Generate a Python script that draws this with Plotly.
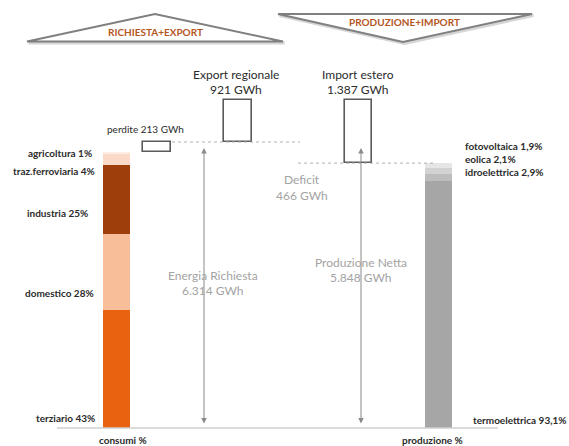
import plotly.graph_objects as go

# --- values (GWh and shares) ---
energia_richiesta = 6314
perdite = 213
export_regionale = 921
produzione_netta = 5848
import_estero = 1387
deficit = 466

consumi_labels = ["terziario 43%", "domestico 28%", "industria 25%",
                  "traz.ferroviaria 4%", "agricoltura 1%"]
consumi_pct = [43, 28, 25, 4, 1]
consumi_colors = ["#E8620F", "#F8BE9A", "#9E3E0A", "#FBD9C8", "#FDEDE3"]

produzione_labels = ["termoelettrica 93,1%", "idroelettrica 2,9%",
                     "eolica 2,1%", "fotovoltaica 1,9%"]
produzione_pct = [93.1, 2.9, 2.1, 1.9]
produzione_colors = ["#A6A6A6", "#BDBDBD", "#D2D2D2", "#E6E6E6"]

W, H = 569, 446
BASE_PX = 428                      # pixel row of the zero line
K = 286 / energia_richiesta        # pixels per GWh


def py(p):
    """pixel row -> GWh value on the y axis"""
    return (BASE_PX - p) / K


def pp(p):
    """pixel row -> paper y"""
    return 1 - p / H


FONT = "Lato"
DARK = "#2b2b2b"
GREY_TXT = "#a3a3a3"
BOX_LINE = "#5a5a5a"

fig = go.Figure()

# consumption column (stacked by share)
consumi_tot = energia_richiesta - perdite
base = 0.0
tot_pct = sum(consumi_pct)
for lab, pct, col in zip(consumi_labels, consumi_pct, consumi_colors):
    h = consumi_tot * pct / tot_pct
    fig.add_bar(x=[116.5], y=[h], base=[base], width=[27],
                marker=dict(color=col, line=dict(width=0)),
                name=lab, showlegend=False, hoverinfo="skip")
    base += h

# production column (stacked by share)
base = 0.0
for lab, pct, col in zip(produzione_labels, produzione_pct, produzione_colors):
    h = produzione_netta * pct / 100
    fig.add_bar(x=[438.5], y=[h], base=[base], width=[27],
                marker=dict(color=col, line=dict(width=0)),
                name=lab, showlegend=False, hoverinfo="skip")
    base += h

# outlined boxes: losses, regional export, foreign import
boxes = [
    (157, 28, consumi_tot, perdite),
    (238, 28, energia_richiesta, export_regionale),
    (358.5, 27, produzione_netta, import_estero),
]
for cx, w, b, h in boxes:
    fig.add_bar(x=[cx], y=[h], base=[b], width=[w],
                marker=dict(color="white", line=dict(color=BOX_LINE, width=1.6)),
                showlegend=False, hoverinfo="skip")

# zero line
fig.add_shape(type="line", xref="x", yref="y", x0=57, x1=498, y0=0, y1=0,
              line=dict(color="#cfcfcf", width=1.5))

# dotted reference levels
fig.add_shape(type="line", xref="x", yref="y", x0=172, x1=300,
              y0=energia_richiesta, y1=energia_richiesta,
              line=dict(color="#b0b0b0", width=1, dash="dot"))
fig.add_shape(type="line", xref="x", yref="y", x0=298, x1=436,
              y0=produzione_netta, y1=produzione_netta,
              line=dict(color="#b0b0b0", width=1, dash="dot"))

# double-headed arrows
for ax_x in (204, 361):
    fig.add_annotation(x=ax_x, y=energia_richiesta, ax=ax_x, ay=0,
                       xref="x", yref="y", axref="x", ayref="y",
                       showarrow=True, arrowhead=2, startarrowhead=2,
                       arrowside="end+start", arrowsize=1.1, arrowwidth=1,
                       arrowcolor="#8a8a8a", standoff=6, startstandoff=3,
                       text="")

# header triangles (soft shadow + outline)
for dx, col, wd in ((1.5, "#d6d6d6", 3), (0, "#808080", 2)):
    fig.add_shape(type="path", xref="x", yref="paper",
                  path=f"M {27+dx} {pp(41.5+dx)} L {155+dx} {pp(14+dx)} "
                       f"L {283+dx} {pp(41.5+dx)} Z",
                  line=dict(color=col, width=wd), fillcolor="white")
    fig.add_shape(type="path", xref="x", yref="paper",
                  path=f"M {278+dx} {pp(14+dx)} L {532+dx} {pp(14+dx)} "
                       f"L {403+dx} {pp(42+dx)} Z",
                  line=dict(color=col, width=wd), fillcolor="white")


def txt(x, y, s, size, color=DARK, anchor="center", bold=False, yref="y"):
    fig.add_annotation(x=x, y=y, xref="x", yref=yref, text=s, showarrow=False,
                       xanchor=anchor, yanchor="middle",
                       font=dict(family=FONT, size=size, color=color,
                                 weight="bold" if bold else "normal"))


txt(155, pp(32), "RICHIESTA+EXPORT", 10, color="#B5561F", bold=True, yref="paper")
txt(404, pp(22), "PRODUZIONE+IMPORT", 10, color="#B5561F", bold=True, yref="paper")

txt(236, py(74), "Export regionale", 12)
txt(236, py(89), "921 GWh", 12)
txt(358, py(74), "Import estero", 12)
txt(358, py(89), "1.387 GWh", 12)
txt(145, py(129), "perdite 213 GWh", 10)

# left side labels
left_rows = [418, 293, 213, 171, 153]
left_right_edge = [97, 96, 90, 97, 94]
for lab, r, xe in zip(consumi_labels, left_rows, left_right_edge):
    txt(xe, py(r), lab, 10, anchor="right", bold=True)

# right side labels
for lab, r in zip(["fotovoltaica 1,9%", "eolica 2,1%", "idroelettrica 2,9%"],
                  [146, 159, 172]):
    txt(463, py(r), lab, 10, anchor="left", bold=True)
txt(471, py(420), "termoelettrica 93,1%", 10, anchor="left", bold=True)

txt(123, py(440), "consumi %", 10, bold=True)
txt(432, py(440), "produzione %", 10, bold=True)

# grey flow annotations
txt(302, py(179), "Deficit", 12, color=GREY_TXT)
txt(302, py(195), "466 GWh", 12, color=GREY_TXT)
txt(213, py(275), "Energia Richiesta", 12, color=GREY_TXT)
txt(213, py(290), "6.314 GWh", 12, color=GREY_TXT)
txt(361, py(262), "Produzione Netta", 12, color=GREY_TXT)
txt(361, py(277), "5.848 GWh", 12, color=GREY_TXT)

fig.update_layout(
    width=W, height=H,
    margin=dict(l=0, r=0, t=0, b=0),
    paper_bgcolor="white", plot_bgcolor="white",
    barmode="overlay", bargap=0,
    xaxis=dict(range=[0, W], visible=False, fixedrange=True),
    yaxis=dict(range=[py(H), py(0)], visible=False, fixedrange=True),
    showlegend=False,
)

fig.write_html("out.html")
